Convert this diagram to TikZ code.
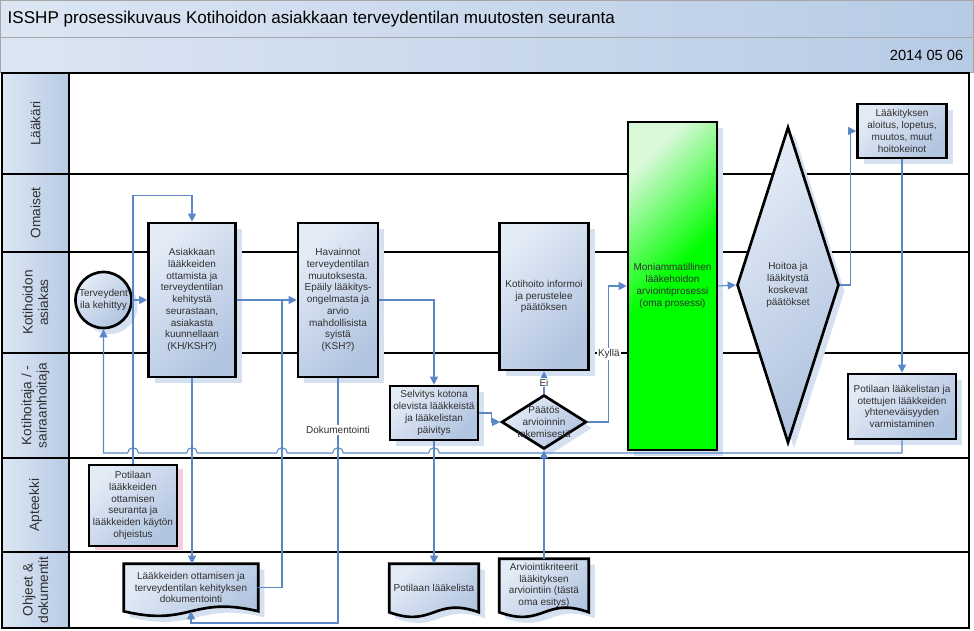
\documentclass[tikz,border=0pt]{standalone}
\usepackage{fontspec}
\setmainfont{Liberation Sans}
\usetikzlibrary{shapes.geometric,arrows.meta,shadows,backgrounds}

\definecolor{boxlight}{HTML}{E3EBF6}
\definecolor{boxdark}{HTML}{B1C4E0}
\definecolor{shadowblue}{HTML}{D5E0F0}
\definecolor{barlight}{HTML}{DCE6F3}
\definecolor{bardark}{HTML}{B7CBE5}
\definecolor{linkblue}{HTML}{5B87C6}
\definecolor{textgray}{HTML}{303030}
\definecolor{greenlight}{HTML}{D8F8D8}
\definecolor{puregreen}{HTML}{00FF00}
\definecolor{pinkshadow}{HTML}{F8CCDC}

\pgfdeclareverticalshading{greenfade}{100bp}{color(0bp)=(puregreen); color(52bp)=(puregreen); color(76bp)=(greenlight); color(100bp)=(greenlight)}

% outline of a document node, #2 = half width
\newcommand\docshape[2]{%
  \path[docbox] (#1.north west) -- (#1.north east) -- (#1.south east)
    .. controls +(-#2,-16) and +(#2,16) .. (#1.south west) -- cycle;}

\begin{document}
\begin{tikzpicture}[x=0.75pt,y=-0.75pt,
  flowtext/.style={font=\fontsize{7.5}{8.8}\selectfont,text=textgray,align=center},
  shadowed/.style={drop shadow={shadow xshift=4.5pt,shadow yshift=-4.5pt,fill=shadowblue,opacity=1}},
  boxfill/.style={draw=black,line width=2pt,top color=boxlight,bottom color=boxdark,shading angle=45},
  task/.style={flowtext,boxfill,shadowed,inner sep=1pt},
  pinktask/.style={flowtext,boxfill,inner sep=1pt,
    drop shadow={shadow xshift=4.5pt,shadow yshift=-3pt,fill=pinkshadow,opacity=1}},
  decision/.style={task,diamond,inner sep=0pt},
  docnode/.style={flowtext,inner sep=1pt},
  docbox/.style={boxfill,shadowed},
  link/.style={draw=linkblue,line width=0.8pt},
  arr/.style={link,-{Triangle[length=6pt,width=6pt]}},
  lbl/.style={flowtext,fill=white,inner sep=1pt},
  laneline/.style={line width=2.2pt,line cap=rect},
  lanecell/.style={draw=black,line width=2.2pt,left color=barlight,right color=bardark},
  lanetext/.style={font=\fontsize{10.25}{11.5}\selectfont,text=textgray,align=center,rotate=90},
]
\useasboundingbox (0,0) rectangle (974,631);

% header bars
\draw[draw=gray!70,left color=barlight,right color=bardark] (0.5,0.5) rectangle (973.5,37.5);
\node[anchor=west,font=\fontsize{12.8}{15}\selectfont] (title) at (3,19)
  {ISSHP prosessikuvaus Kotihoidon asiakkaan terveydentilan muutosten seuranta};
\draw[draw=gray!70,left color=barlight,right color=bardark] (0.5,37.5) rectangle (973.5,72.5);
\node[anchor=east,font=\fontsize{11}{13}\selectfont] (date) at (968,55) {2014 05 06};

% swimlanes
\foreach \ya/\yb/\name [count=\i] in {73/174/Lääkäri, 174/252/Omaiset,
    252/353/{Kotihoidon\\asiakas}, 353/458/{Kotihoitaja / -\\sairaanhoitaja},
    458/552/Apteekki, 552/628/{Ohjeet \&\\dokumentit}} {
  \draw[lanecell] (2,\ya) rectangle (69,\yb);
  \node[lanetext] (lane\i) at (35.5,{(\ya+\yb)/2}) {\name};
  \draw[laneline] (69,\yb) -- (969,\yb);
}
\draw[laneline] (2,73) -- (969,73) -- (969,628);

% steps
\node[task,circle,minimum size=42pt,inner sep=0pt] (circ) at (103.5,300) {Terveydent\\ila kehittyy};
\node[task,minimum width=65.25pt,minimum height=115.5pt] (seur) at (192,300)
  {Asiakkaan\\lääkkeiden\\ottamista ja\\terveydentilan\\kehitystä\\seurastaan,\\asiakasta\\kuunnellaan\\(KH/KSH?)};
\node[task,minimum width=60pt,minimum height=115.5pt] (hav) at (338,300)
  {Havainnot\\terveydentilan\\muutoksesta.\\Epäily lääkitys-\\ongelmasta ja\\arvio\\mahdollisista\\syistä\\(KSH?)};
\node[task,minimum width=66.75pt,minimum height=110.25pt] (info) at (544,296.5)
  {Kotihoito informoi\\ja perustelee\\päätöksen};
\node[task,minimum width=66pt,minimum height=40.5pt] (selv) at (434,413)
  {Selvitys kotona\\olevista lääkkeistä\\ja lääkelistan\\päivitys};
\node[decision,minimum width=63.75pt,minimum height=40.5pt,
  label={[flowtext]center:{Päätös\\arvioinnin\\tekemisestä}}] (paat) at (544,422) {};
\node[task,shading=greenfade,shading angle=45,
  minimum width=66.75pt,minimum height=246pt] (green) at (672.5,286)
  {Moniammatillinen\\lääkehoidon\\arviointiprosessi\\(oma prosessi)};
\node[decision,minimum width=76.5pt,minimum height=237pt] (hoit) at (788,285)
  {Hoitoa ja\\lääkitystä\\koskevat\\päätökset};
\node[task,minimum width=66.75pt,minimum height=40.5pt] (laak) at (902,131)
  {Lääkityksen\\aloitus, lopetus,\\muutos, muut\\hoitokeinot};
\node[task,minimum width=81pt,minimum height=48.75pt] (yht) at (902,406.5)
  {Potilaan lääkelistan ja\\otettujen lääkkeiden\\yhteneväisyyden\\varmistaminen};
\node[pinktask,minimum width=66pt,minimum height=60.75pt] (apt) at (133,505.5)
  {Potilaan\\lääkkeiden\\ottamisen\\seuranta ja\\lääkkeiden käytön\\ohjeistus};

% documents
\node[docnode,minimum width=100.5pt,minimum height=35.25pt] (doc12) at (191,587.5)
  {Lääkkeiden ottamisen ja\\terveydentilan kehityksen\\dokumentointi};
\node[docnode,minimum width=66.75pt,minimum height=36pt] (doc13) at (434,588) {Potilaan lääkelista};
\node[docnode,minimum width=66.75pt,minimum height=39.75pt] (doc14) at (544,585.5)
  {Arviointikriteerit\\lääkityksen\\arviointiin (tästä\\oma esitys)};
\begin{scope}[on background layer]
  \docshape{doc12}{67}
  \docshape{doc13}{44.5}
  \docshape{doc14}{44.5}
\end{scope}

% connectors
\coordinate (loopy) at (0,453);
\coordinate (docy) at (0,623);
\coordinate (jn) at (282,300);
\draw[arr] (circ.east) -- (seur.west);
\draw[arr] (seur.east) -- (hav.west);
\draw[link] (doc12.east) -| (jn);
\draw[arr] (apt.north) |- ([yshift=19.5pt]seur.north) -- (seur.north);
\draw[arr] (seur.south) -- (seur.south |- doc12.north);
\draw[arr] (hav.south) -- node[lbl,pos=0.21] (dok) {Dokumentointi} (hav.south |- docy) -| (doc12.south);
\draw[arr] (hav.east) -| (selv.north);
\draw[arr] (selv.east) -- ++(9pt,0) |- (paat.west);
\draw[arr] (selv.south) -- (doc13.north);
\draw[arr] (paat.north) -- node[lbl] (ei) {Ei} (info.south);
\draw[arr] (paat.east) -- ++(15.75pt,0) |- node[lbl,pos=0.25] (kylla) {Kyllä} (green.west);
\draw[arr] (green.east) -- (hoit.west);
\draw[arr] (hoit.east) -- ++(7.5pt,0) |- (laak.west);
\draw[arr] (laak.south) -- (yht.north);
\draw[arr] (doc14.north) -- (paat.south);
\draw[arr] (yht.south) -- (yht.south |- loopy)
  \foreach \hx in {434,338,282,192,133} {
    -- ([xshift=4pt]\hx,453) arc[start angle=0,end angle=180,radius=4pt] }
  -- (circ.south |- loopy) -- (circ.south);
\end{tikzpicture}
\end{document}
